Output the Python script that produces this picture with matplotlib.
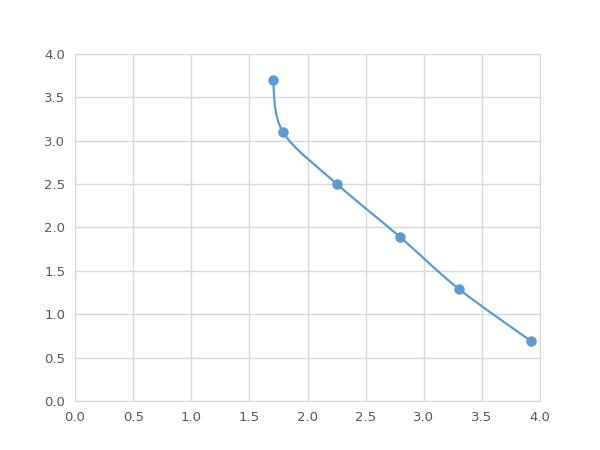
import matplotlib
matplotlib.use('Agg')
import matplotlib.pyplot as plt
from matplotlib.path import Path
from matplotlib.patches import PathPatch
import numpy as np

# data
x_vals = [1.703, 1.789, 2.254, 2.796, 3.303, 3.923]
y_vals = [3.70, 3.10, 2.50, 1.89, 1.29, 0.69]

line_color = '#5B9BD5'
grid_color = '#D9D9D9'
text_color = '#595959'


def smooth_path(xs, ys):
    # Excel-like smoothed line: cubic bezier segments through every point
    pts = np.column_stack([xs, ys])
    n = len(pts)
    verts = [pts[0]]
    codes = [Path.MOVETO]
    for i in range(n - 1):
        p0 = pts[i - 1] if i > 0 else pts[i]
        p1 = pts[i]
        p2 = pts[i + 1]
        p3 = pts[i + 2] if i + 2 < n else pts[i + 1]
        c1 = p1 + (p2 - p0) / 6.0
        c2 = p2 - (p3 - p1) / 6.0
        verts += [c1, c2, p2]
        codes += [Path.CURVE4] * 3
    return Path(verts, codes)


fig = plt.figure(figsize=(6, 4.5), dpi=100)
ax = fig.add_axes([0.125, 0.109, 0.775, 0.771])

patch = PathPatch(smooth_path(x_vals, y_vals), facecolor='none',
                  edgecolor=line_color, linewidth=1.6, zorder=3)
ax.add_patch(patch)
ax.plot(x_vals, y_vals, 'o', color=line_color, markersize=6.5, zorder=4)

ax.set_xlim(0, 4)
ax.set_ylim(0, 4)
ax.set_xticks(np.arange(0, 4.01, 0.5))
ax.set_yticks(np.arange(0, 4.01, 0.5))
ax.set_xticklabels(['%.1f' % v for v in np.arange(0, 4.01, 0.5)])
ax.set_yticklabels(['%.1f' % v for v in np.arange(0, 4.01, 0.5)])
ax.grid(True, color=grid_color, linewidth=1)
ax.set_axisbelow(True)
for s in ax.spines.values():
    s.set_color(grid_color)
ax.tick_params(length=0, labelsize=9.5, colors=text_color, pad=7)

plt.savefig('out.png', dpi=100)
